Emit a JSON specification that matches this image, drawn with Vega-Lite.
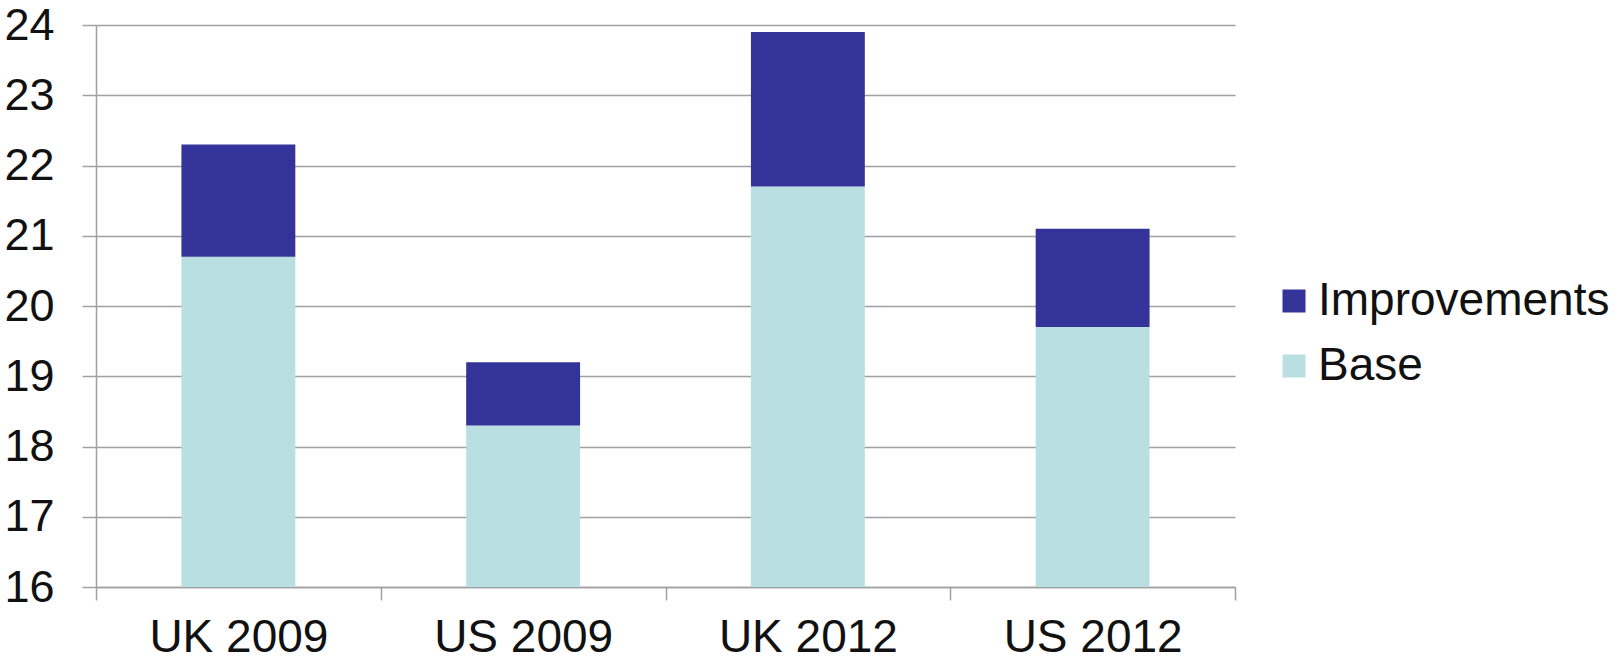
{
  "$schema": "https://vega.github.io/schema/vega-lite/v6.json",
  "width": 1139,
  "height": 562,
  "autosize": {"type": "none"},
  "padding": {"left": 96, "top": 25, "right": 380, "bottom": 77},
  "background": "white",
  "config": {
    "view": {"stroke": null},
    "font": "Liberation Sans",
    "axis": {"labelColor": "#111111", "labelFont": "Liberation Sans"}
  },
  "data": {
    "values": [
      {"category": "UK 2009", "series": "Base", "value": 20.7},
      {"category": "UK 2009", "series": "Improvements", "value": 1.6},
      {"category": "US 2009", "series": "Base", "value": 18.3},
      {"category": "US 2009", "series": "Improvements", "value": 0.9},
      {"category": "UK 2012", "series": "Base", "value": 21.7},
      {"category": "UK 2012", "series": "Improvements", "value": 2.2},
      {"category": "US 2012", "series": "Base", "value": 19.7},
      {"category": "US 2012", "series": "Improvements", "value": 1.4}
    ]
  },
  "mark": {"type": "bar", "clip": true, "width": {"band": 0.4}},
  "encoding": {
    "x": {
      "field": "category",
      "type": "nominal",
      "sort": ["UK 2009", "US 2009", "UK 2012", "US 2012"],
      "scale": {"paddingInner": 0, "paddingOuter": 0},
      "axis": {
        "title": null,
        "labelAngle": 0,
        "labelFontSize": 46,
        "labelPadding": 15,
        "labelLimit": 0,
        "tickBand": "extent",
        "tickSize": 13,
        "tickColor": "#a0a0a0",
        "tickWidth": 1.5,
        "domainColor": "#a0a0a0",
        "domainWidth": 1.5,
        "grid": false
      }
    },
    "y": {
      "field": "value",
      "type": "quantitative",
      "stack": "zero",
      "scale": {"domain": [16, 24], "nice": false, "zero": false},
      "axis": {
        "title": null,
        "values": [16, 17, 18, 19, 20, 21, 22, 23, 24],
        "labelFontSize": 45,
        "labelPadding": 28,
        "tickSize": 14,
        "tickColor": "#a0a0a0",
        "tickWidth": 1.5,
        "domainColor": "#a0a0a0",
        "domainWidth": 1.5,
        "grid": true,
        "gridColor": "#a0a0a0",
        "gridWidth": 1.5
      }
    },
    "color": {
      "field": "series",
      "type": "nominal",
      "scale": {"domain": ["Improvements", "Base"], "range": ["#333399", "#b9dfe2"]},
      "legend": {
        "title": null,
        "orient": "none",
        "legendX": 1175,
        "legendY": 253,
        "padding": 0,
        "symbolType": "square",
        "symbolSize": 529,
        "symbolStrokeWidth": 0,
        "labelFontSize": 46,
        "labelColor": "#111111",
        "labelOffset": 1,
        "labelLimit": 0,
        "rowPadding": 19
      }
    },
    "order": {"field": "series", "sort": "ascending"}
  }
}
